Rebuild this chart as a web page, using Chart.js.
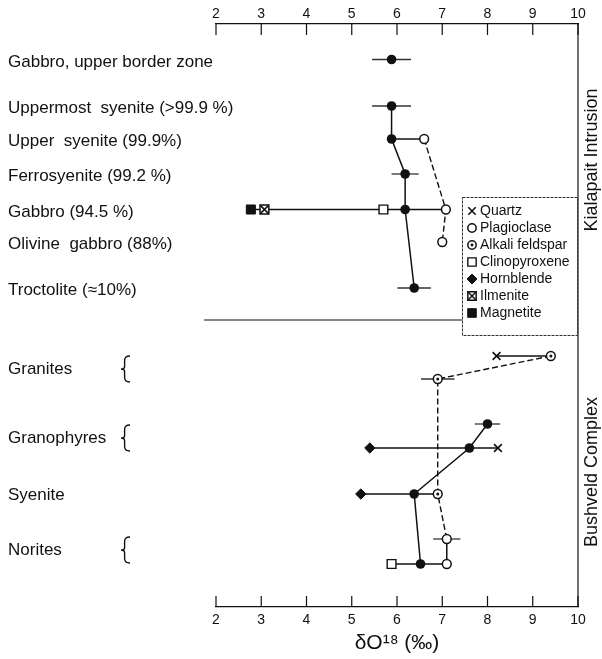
<!DOCTYPE html>
<html>
<head>
<meta charset="utf-8">
<script src="https://cdn.jsdelivr.net/npm/chart.js@4.4.1/dist/chart.umd.min.js"></script>
<style>
  html, body { margin: 0; padding: 0; background: #fff; }
  #wrap { width: 602px; height: 659px; }
</style>
</head>
<body>
<div id="wrap"><canvas id="c" width="602" height="659"></canvas></div>
<script>
// ---- δ18O (‰) of minerals and whole rocks, Kiglapait and Bushveld ----
const xTicks = [2, 3, 4, 5, 6, 7, 8, 9, 10];

// vertical level of every sample row (downwards)
const rowY = {
  gabbroBorder: 3.55, uppermostSyenite: 8.2, upperSyenite: 11.5, ferrosyenite: 15.0,
  gabbro: 18.55, olivineGabbro: 21.8, troctolite: 26.4,
  granitesA: 33.2, granitesB: 35.5, granophyresA: 40.0, granophyresB: 42.4,
  syenite: 47.0, noritesA: 51.5, noritesB: 54.0
};

const kialapaitUnits = ['Gabbro, upper border zone', 'Uppermost  syenite (>99.9 %)', 'Upper  syenite (99.9%)',
  'Ferrosyenite (99.2 %)', 'Gabbro (94.5 %)', 'Olivine  gabbro (88%)', 'Troctolite (\u224810%)'];
const kialapaitRows = ['gabbroBorder', 'uppermostSyenite', 'upperSyenite', 'ferrosyenite', 'gabbro', 'olivineGabbro', 'troctolite'];

const bushveldUnits = ['Granites', 'Granophyres', 'Syenite', 'Norites'];
const bushveldLabelY = [34.5, 41.4, 47.1, 52.6];
const bushveldBraced = [true, true, false, true];

const groupNames = ['Kialapait Intrusion', 'Bushveld Complex'];
const groupCenterY = [13.6, 44.8];
const dividerY = 29.6;

const mineralNames = ['Quartz', 'Plagioclase', 'Alkali feldspar', 'Clinopyroxene', 'Hornblende', 'Ilmenite', 'Magnetite'];

// [δ18O, row]
const wholeRock = [[5.88, 'gabbroBorder'], [5.88, 'uppermostSyenite'], [5.88, 'upperSyenite'], [6.18, 'ferrosyenite'],
  [6.18, 'gabbro'], [6.38, 'troctolite'], [8.0, 'granophyresA'], [7.6, 'granophyresB'], [6.38, 'syenite'], [6.52, 'noritesB']];
const quartz = [[8.2, 'granitesA'], [8.23, 'granophyresB']];
const plagioclase = [[6.6, 'upperSyenite'], [7.08, 'gabbro'], [7.0, 'olivineGabbro'], [7.1, 'noritesA'], [7.1, 'noritesB']];
const alkaliFeldspar = [[9.4, 'granitesA'], [6.9, 'granitesB'], [6.9, 'syenite']];
const clinopyroxene = [[5.7, 'gabbro'], [5.88, 'noritesB']];
const hornblende = [[5.4, 'granophyresB'], [5.2, 'syenite']];
const ilmenite = [[3.07, 'gabbro']];
const magnetite = [[2.77, 'gabbro']];

// [δ18O, row, ± range]
const errorBars = [[5.88, 'gabbroBorder', 0.43], [5.88, 'uppermostSyenite', 0.43], [6.18, 'ferrosyenite', 0.3],
  [6.38, 'troctolite', 0.37], [6.9, 'granitesB', 0.37], [8.0, 'granophyresA', 0.28], [7.1, 'noritesA', 0.3]];

// tie lines between coexisting phases / successive units
const solidTies = [
  [[5.88, 'uppermostSyenite'], [5.88, 'upperSyenite'], [6.18, 'ferrosyenite'], [6.18, 'gabbro'], [6.38, 'troctolite']],
  [[5.88, 'upperSyenite'], [6.6, 'upperSyenite']],
  [[2.77, 'gabbro'], [7.08, 'gabbro']],
  [[8.2, 'granitesA'], [9.4, 'granitesA']],
  [[5.4, 'granophyresB'], [8.23, 'granophyresB']],
  [[8.0, 'granophyresA'], [7.6, 'granophyresB'], [6.38, 'syenite'], [6.52, 'noritesB']],
  [[5.2, 'syenite'], [6.9, 'syenite']],
  [[5.88, 'noritesB'], [7.1, 'noritesB']],
  [[7.1, 'noritesA'], [7.1, 'noritesB']]
];
const dashedTies = [
  [[6.6, 'upperSyenite'], [7.08, 'gabbro'], [7.0, 'olivineGabbro']],
  [[9.4, 'granitesA'], [6.9, 'granitesB'], [6.9, 'syenite'], [7.1, 'noritesA']]
];

// ---- drawing ----
const INK = '#111';
const FONT = '"Liberation Sans", Arial, sans-serif';
Chart.defaults.font.family = FONT;
Chart.defaults.color = INK;

const toXY = pts => pts.map(([x, row]) => ({ x, y: rowY[row] }));

// base marker plus an optional mark printed on top of it
const markerStyle = {
  'Quartz':          { pointStyle: 'crossRot', radius: 5.5, borderWidth: 1.6, fill: INK, stroke: INK },
  'Plagioclase':     { pointStyle: 'circle', radius: 4.4, borderWidth: 1.5, fill: '#fff', stroke: INK },
  'Alkali feldspar': { pointStyle: 'circle', radius: 4.4, borderWidth: 1.5, fill: '#fff', stroke: INK,
                       overlay: { pointStyle: 'circle', radius: 1.5, borderWidth: 0, fill: INK, stroke: INK } },
  'Clinopyroxene':   { pointStyle: 'rect', radius: 6.2, borderWidth: 1.4, fill: '#fff', stroke: INK },
  'Hornblende':      { pointStyle: 'rectRot', radius: 5.2, borderWidth: 1, fill: INK, stroke: INK },
  'Ilmenite':        { pointStyle: 'rect', radius: 6.2, borderWidth: 1.5, fill: '#fff', stroke: INK,
                       overlay: { pointStyle: 'crossRot', radius: 6.2, borderWidth: 1.5, fill: INK, stroke: INK } },
  'Magnetite':       { pointStyle: 'rect', radius: 6.4, borderWidth: 1, fill: INK, stroke: INK }
};
const mineralData = [quartz, plagioclase, alkaliFeldspar, clinopyroxene, hornblende, ilmenite, magnetite];

const pointSet = (label, data, s, order) => ({
  label, data, showLine: false, order,
  pointStyle: s.pointStyle, pointRadius: s.radius, pointBorderWidth: s.borderWidth,
  pointBackgroundColor: s.fill, pointBorderColor: s.stroke
});

const datasets = [];
solidTies.forEach(t => datasets.push({ data: toXY(t), showLine: true, pointRadius: 0, borderColor: INK, borderWidth: 1.5, order: 2 }));
dashedTies.forEach(t => datasets.push({ data: toXY(t), showLine: true, pointRadius: 0, borderColor: INK, borderWidth: 1.4, borderDash: [6, 3], order: 2 }));
errorBars.forEach(([x, row, e]) => datasets.push({ data: toXY([[x - e, row], [x + e, row]]), showLine: true, pointRadius: 0, borderColor: '#333', borderWidth: 1.3, order: 3 }));
datasets.push(pointSet('Whole rock', toXY(wholeRock), { pointStyle: 'circle', radius: 4.8, borderWidth: 0, fill: INK, stroke: INK }, 1));
mineralNames.forEach((name, i) => {
  const s = markerStyle[name];
  datasets.push(pointSet(name, toXY(mineralData[i]), s, 1));
  if (s.overlay) datasets.push(pointSet(name, toXY(mineralData[i]), s.overlay, 0));
});

function drawBrace(ctx, x, y0, y1, w) {
  const m = (y0 + y1) / 2, h = y1 - y0;
  ctx.beginPath();
  ctx.moveTo(x + w, y0);
  ctx.quadraticCurveTo(x + w * 0.35, y0, x + w * 0.4, y0 + h * 0.2);
  ctx.lineTo(x + w * 0.4, m - h * 0.1);
  ctx.quadraticCurveTo(x + w * 0.4, m, x, m);
  ctx.quadraticCurveTo(x + w * 0.4, m, x + w * 0.4, m + h * 0.1);
  ctx.lineTo(x + w * 0.4, y1 - h * 0.2);
  ctx.quadraticCurveTo(x + w * 0.35, y1, x + w, y1);
  ctx.stroke();
}

function drawMarker(ctx, s, x, y, k) {
  ctx.fillStyle = s.fill; ctx.strokeStyle = s.stroke; ctx.lineWidth = s.borderWidth;
  Chart.helpers.drawPoint(ctx, { pointStyle: s.pointStyle, radius: s.radius * k, borderWidth: s.borderWidth, rotation: 0 }, x, y);
}

const framePlugin = {
  id: 'frame',
  beforeDatasetsDraw(chart) {
    const { ctx, chartArea: a, scales } = chart;
    const y = scales.y;
    ctx.save();
    ctx.strokeStyle = INK; ctx.lineWidth = 1.2;
    // right frame
    ctx.beginPath(); ctx.moveTo(a.right, a.top); ctx.lineTo(a.right, a.bottom); ctx.stroke();
    // inward tick marks on both δ18O axes
    ctx.beginPath();
    scales.xTop.ticks.forEach(t => { const px = scales.xTop.getPixelForValue(t.value); ctx.moveTo(px, a.top); ctx.lineTo(px, a.top + 11); });
    scales.x.ticks.forEach(t => { const px = scales.x.getPixelForValue(t.value); ctx.moveTo(px, a.bottom); ctx.lineTo(px, a.bottom - 11); });
    ctx.stroke();
    // divider between the two complexes
    const dy = y.getPixelForValue(dividerY);
    ctx.beginPath(); ctx.moveTo(a.left - 12, dy); ctx.lineTo(a.right - 116, dy); ctx.stroke();

    // unit names
    ctx.fillStyle = INK; ctx.font = '17px ' + FONT; ctx.textBaseline = 'middle'; ctx.textAlign = 'left';
    kialapaitUnits.forEach((u, i) => ctx.fillText(u, 8, y.getPixelForValue(rowY[kialapaitRows[i]]) + 2.5));
    bushveldUnits.forEach((u, i) => {
      const py = y.getPixelForValue(bushveldLabelY[i]);
      ctx.fillText(u, 8, py);
      if (bushveldBraced[i]) { ctx.lineWidth = 1.4; drawBrace(ctx, 121, py - 13, py + 13, 9); }
    });

    // complex names along the right margin
    ctx.font = '18px ' + FONT; ctx.textAlign = 'center';
    groupNames.forEach((g, i) => {
      ctx.save();
      ctx.translate(a.right + 14, y.getPixelForValue(groupCenterY[i]));
      ctx.rotate(-Math.PI / 2);
      ctx.fillText(g, 0, 0);
      ctx.restore();
    });
    ctx.restore();
  },
  afterDatasetsDraw(chart) {
    const { ctx, chartArea: a } = chart;
    const bx = a.right - 116, by = a.top + 173, bw = 115, bh = 138;
    ctx.save();
    ctx.fillStyle = '#fff'; ctx.fillRect(bx, by, bw, bh);
    ctx.strokeStyle = '#333'; ctx.lineWidth = 1; ctx.setLineDash([3, 1]);
    ctx.strokeRect(bx + 0.5, by + 0.5, bw, bh);
    ctx.setLineDash([]);
    ctx.font = '14px ' + FONT; ctx.textBaseline = 'middle'; ctx.textAlign = 'left';
    mineralNames.forEach((name, i) => {
      const s = markerStyle[name];
      const cy = by + 14 + i * 17, cx = bx + 10;
      drawMarker(ctx, s, cx, cy, 0.95);
      if (s.overlay) drawMarker(ctx, s.overlay, cx, cy, 0.95);
      ctx.fillStyle = INK;
      ctx.fillText(name, bx + 18, cy);
    });
    ctx.restore();
  }
};

const axisCommon = {
  type: 'linear', min: 2, max: 10,
  afterBuildTicks: s => { s.ticks = xTicks.map(v => ({ value: v })); },
  grid: { drawOnChartArea: false, drawTicks: false },
  border: { display: true, color: INK, width: 1.2 }
};

new Chart(document.getElementById('c'), {
  type: 'scatter',
  data: { datasets },
  options: {
    responsive: false, animation: false, events: [],
    layout: { padding: { left: 216, right: 24, top: 0, bottom: 0 } },
    plugins: { legend: { display: false }, tooltip: { enabled: false } },
    scales: {
      x: Object.assign({}, axisCommon, {
        position: 'bottom',
        ticks: { font: { size: 14 }, color: INK, padding: 5, maxRotation: 0 },
        title: { display: true, text: '\u03b4O\u00b9\u2078 (\u2030)', font: { size: 21 }, color: INK, padding: { top: 0, bottom: 3 } },
        afterFit: s => { s.height = 52; }
      }),
      xTop: Object.assign({}, axisCommon, {
        position: 'top',
        ticks: { font: { size: 14 }, color: INK, padding: 1, maxRotation: 0 },
        afterFit: s => { s.height = 24; }
      }),
      y: { type: 'linear', display: false, min: 0, max: 58.3, reverse: true }
    }
  },
  plugins: [framePlugin]
});
</script>
</body>
</html>
